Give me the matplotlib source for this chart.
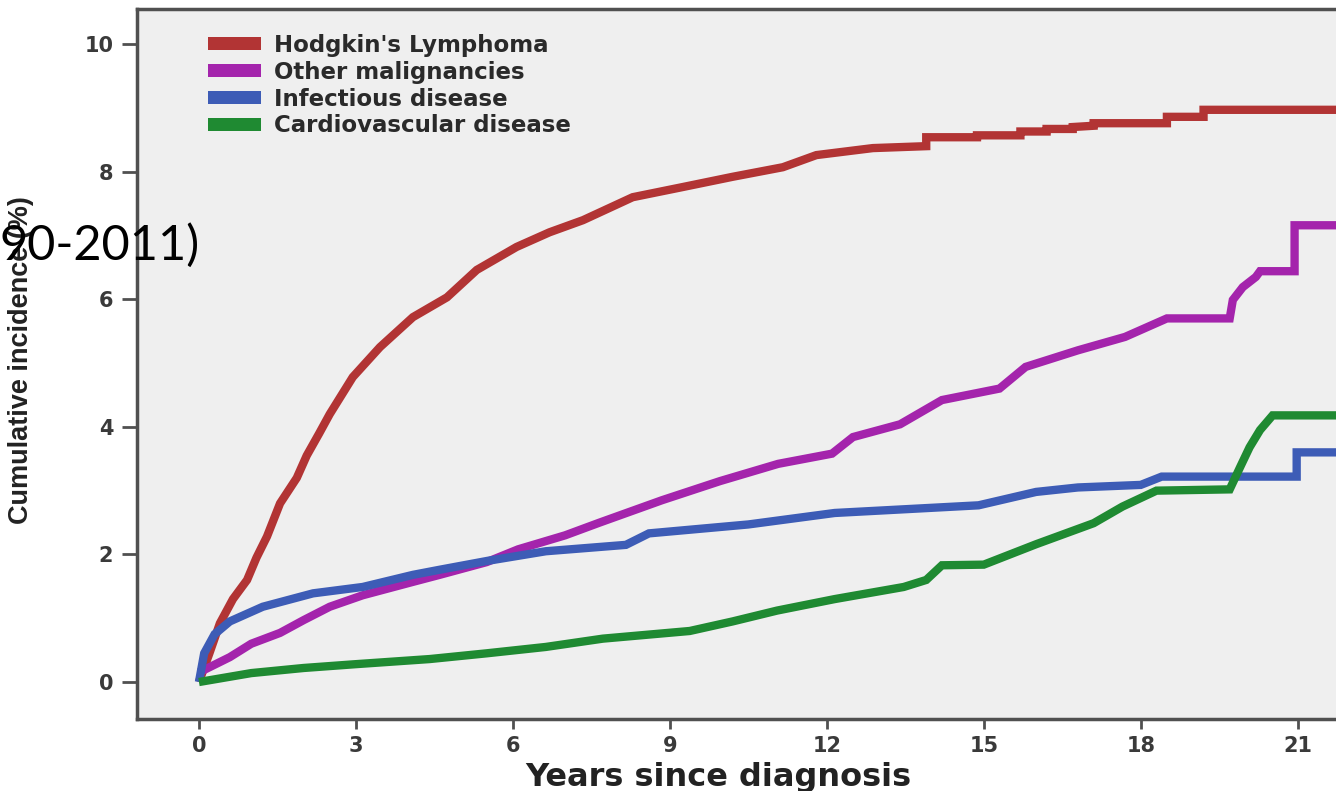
import matplotlib
matplotlib.use("Agg")
import matplotlib.pyplot as plt
from matplotlib.patches import Patch

# cumulative incidence (%) by cause, read as (years, value) step points
hl_years = [0, 0.2, 0.4, 0.65, 0.92, 1.1, 1.3, 1.55, 1.87, 2.06, 2.3, 2.5, 2.94,
            3.46, 4.09, 4.74, 5.31, 6.07, 6.7, 7.34, 8.29, 9.25, 10.2, 11.16,
            11.8, 12.88, 13.9, 13.9, 14.87, 14.87, 15.7, 15.7, 16.2, 16.2, 16.7,
            16.7, 17.1, 17.1, 18.5, 18.5, 19.2, 19.2, 22.6]
hl_cum = [0, 0.45, 0.92, 1.3, 1.6, 1.95, 2.28, 2.8, 3.2, 3.55, 3.9, 4.2, 4.78,
          5.25, 5.72, 6.03, 6.46, 6.82, 7.05, 7.24, 7.6, 7.76, 7.92, 8.07,
          8.26, 8.37, 8.4, 8.54, 8.54, 8.57, 8.57, 8.63, 8.63, 8.67, 8.67,
          8.7, 8.72, 8.76, 8.76, 8.86, 8.86, 8.97, 8.97]

om_years = [0, 0.59, 1.0, 1.55, 2.0, 2.5, 3.13, 4.09, 4.6, 5.5, 6.1, 7.0, 7.66,
            8.85, 9.96, 11.07, 12.1, 12.5, 13.4, 14.2, 15.3, 15.8, 16.8, 17.7,
            18.5, 19.7, 19.76, 19.95, 20.2, 20.28, 20.94, 20.94, 22.6]
om_cum = [0.15, 0.39, 0.6, 0.77, 0.97, 1.18, 1.36, 1.57, 1.68, 1.88, 2.08, 2.3,
          2.5, 2.85, 3.15, 3.42, 3.58, 3.84, 4.04, 4.42, 4.6, 4.94, 5.2, 5.41,
          5.7, 5.7, 5.99, 6.19, 6.35, 6.44, 6.44, 7.16, 7.16]

inf_years = [0, 0.1, 0.3, 0.59, 1.22, 2.18, 3.13, 4.09, 4.6, 5.52, 6.63, 8.16,
             8.6, 10.5, 12.15, 14.9, 16.0, 16.8, 18.0, 18.4, 20.98, 20.98, 22.6]
inf_cum = [0, 0.45, 0.75, 0.95, 1.18, 1.39, 1.49, 1.68, 1.76, 1.9, 2.05, 2.15,
           2.33, 2.47, 2.65, 2.77, 2.98, 3.05, 3.09, 3.22, 3.22, 3.6, 3.6]

cvd_years = [0, 1.0, 2.0, 3.0, 4.41, 5.5, 6.63, 7.72, 9.38, 10.2, 11.05, 12.15,
             13.47, 13.9, 14.2, 15.0, 16.0, 17.1, 17.65, 18.3, 19.7, 19.9,
             20.08, 20.28, 20.52, 22.6]
cvd_cum = [0, 0.14, 0.22, 0.28, 0.36, 0.45, 0.55, 0.68, 0.8, 0.95, 1.12, 1.3,
           1.49, 1.6, 1.83, 1.84, 2.16, 2.49, 2.75, 3.0, 3.02, 3.37, 3.68, 3.95,
           4.18, 4.18]

labels = ["Hodgkin's Lymphoma", "Other malignancies", "Infectious disease",
          "Cardiovascular disease"]
colors = ["#b23434", "#a424ac", "#3d5cb6", "#1f8a32"]
x_ticks = [0, 3, 6, 9, 12, 15, 18, 21]
y_ticks = [0, 2, 4, 6, 8, 10]

fig = plt.figure(figsize=(13.36, 7.91), dpi=100)
ax = fig.add_axes([0.1025, 0.091, 0.9319, 0.8976])
ax.set_facecolor("#efefef")

series = [(hl_years, hl_cum), (om_years, om_cum), (inf_years, inf_cum),
          (cvd_years, cvd_cum)]
for (xs, ys), c in zip(series, colors):
    ax.plot(xs, ys, color=c, lw=6, solid_joinstyle="miter",
            solid_capstyle="butt")

ax.set_xlim(-1.185, 22.61)
ax.set_ylim(-0.58, 10.55)
ax.set_xticks(x_ticks)
ax.set_yticks(y_ticks)

spine_col = "#505050"
for side in ["left", "top", "bottom"]:
    ax.spines[side].set_color(spine_col)
    ax.spines[side].set_linewidth(2.5)
ax.spines["right"].set_visible(False)

ax.tick_params(axis="x", direction="out", length=7, width=2, color=spine_col,
               pad=5, labelsize=15, labelcolor="#3a3a3a")
ax.tick_params(axis="y", direction="out", length=11, width=2, color=spine_col,
               pad=6, labelsize=15, labelcolor="#3a3a3a")
for t in ax.get_xticklabels() + ax.get_yticklabels():
    t.set_fontweight("bold")

ax.set_xlabel("Years since diagnosis", fontsize=23, fontweight="bold",
              color="#222222")
ax.xaxis.set_label_coords(0.4667, -0.06)
ax.set_ylabel("Cumulative incidence (%)", fontsize=19.5, fontweight="bold",
              color="#222222", family=["Liberation Sans", "DejaVu Sans"])
ax.yaxis.set_label_coords(-0.083, 0.505)

handles = [Patch(facecolor=c, edgecolor="none") for c in colors]
ax.legend(handles, labels, loc="upper left", bbox_to_anchor=(0.05, 0.978),
          frameon=False, handlelength=2.3, handleheight=0.5,
          handletextpad=0.55, labelspacing=0.17, borderaxespad=0,
          prop={"weight": "bold", "size": 16.5})
for txt in ax.get_legend().get_texts():
    txt.set_color("#2a2a2a")

fig.text(0.0, (791 - 260) / 791, "90-2011)", fontsize=35, family="Lato",
         color="black", va="baseline", ha="left", zorder=5)

fig.savefig("out.png", dpi=100, facecolor="white")
